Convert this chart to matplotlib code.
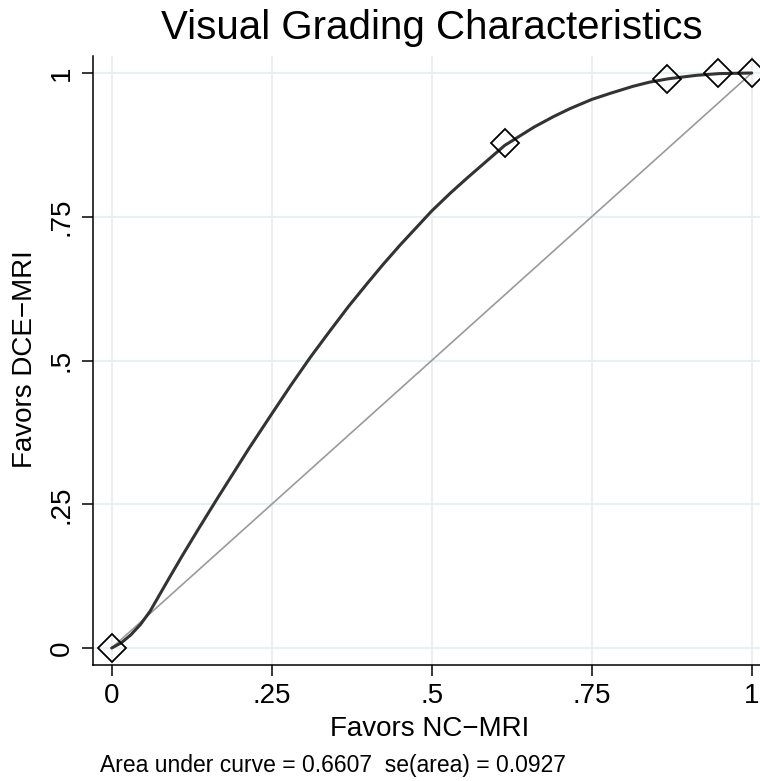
import matplotlib
matplotlib.use("Agg")
import matplotlib.pyplot as plt

plt.rcParams["font.family"] = ["Liberation Sans", "DejaVu Sans"]

# Observed operating points (diamonds)
point_x = [0.0, 0.614, 0.868, 0.947, 1.0]
point_y = [0.0, 0.878, 0.990, 1.0, 1.0]

# Fitted curve
curve_x = [0.0, 0.015, 0.03, 0.045, 0.06, 0.075, 0.09, 0.11, 0.135, 0.165, 0.19,
           0.215, 0.25, 0.28, 0.31, 0.34, 0.37, 0.40, 0.424, 0.45, 0.475, 0.5,
           0.53, 0.555, 0.585, 0.614, 0.66, 0.69, 0.716, 0.75, 0.78, 0.815, 0.84,
           0.87, 0.914, 0.95, 1.0]
curve_y = [0.0, 0.009, 0.023, 0.041, 0.064, 0.093, 0.122, 0.160, 0.206, 0.260, 0.304,
           0.348, 0.407, 0.457, 0.505, 0.550, 0.594, 0.635, 0.667, 0.700, 0.730, 0.760,
           0.792, 0.817, 0.846, 0.874, 0.906, 0.924, 0.938, 0.954, 0.965, 0.977, 0.984,
           0.990, 0.996, 0.999, 1.0]

ref_x = [0.0, 1.0]
ref_y = [0.0, 1.0]

ticks = [0, 0.25, 0.5, 0.75, 1]
tick_labels = ["0", ".25", ".5", ".75", "1"]

title = "Visual Grading Characteristics"
xlabel = "Favors NC\u2212MRI"
ylabel = "Favors DCE\u2212MRI"
note = "Area under curve = 0.6607  se(area) = 0.0927"

W, H = 760, 781
fig = plt.figure(figsize=(W / 100, H / 100), dpi=100)
fig.patch.set_facecolor("white")

# axes box in pixels: left spine x=93, bottom spine y=665, top y=56, runs off right edge
left, right, top, bottom = 93, 760, 56, 665
ax = fig.add_axes([left / W, 1 - bottom / H, (right - left) / W, (bottom - top) / H])

x0, xs = 111.7, 640.0   # pixel of x=0, px per unit
y0, ys = 648.0, 575.0
ax.set_xlim((left - x0) / xs, (right - x0) / xs)
ax.set_ylim((y0 - bottom) / ys, (y0 - top) / ys)

ax.grid(True, color="#e6eff2", linewidth=1.3)
ax.set_axisbelow(True)

ax.plot(ref_x, ref_y, color="#9a9a9a", linewidth=1.2, zorder=2)
ax.plot(curve_x, curve_y, color="#333333", linewidth=2.2, zorder=3,
        solid_capstyle="round", solid_joinstyle="round")
ax.plot(point_x, point_y, linestyle="none", marker="D", markersize=14,
        markerfacecolor="none", markeredgecolor="black", markeredgewidth=1.3,
        zorder=4, clip_on=False)

for s in ("top", "right"):
    ax.spines[s].set_visible(False)
for s in ("left", "bottom"):
    ax.spines[s].set_linewidth(1.1)

ax.set_xticks(ticks)
ax.set_xticklabels(tick_labels)
ax.set_yticks(ticks)
ax.set_yticklabels(tick_labels, rotation=90, va="center")
ax.tick_params(length=8, width=1.1, labelsize=20, pad=5)

fig.text(432 / W, 1 - 39 / H, title, ha="center", va="baseline", fontsize=29)
fig.text(430 / W, 1 - 736 / H, xlabel, ha="center", va="baseline", fontsize=20)
fig.text(25 / W, 1 - 359 / H, ylabel, ha="center", va="center", rotation=90,
         fontsize=20)
fig.text(100 / W, 1 - 772 / H, note, ha="left", va="baseline", fontsize=16.5)

fig.savefig("out.png", dpi=100)
